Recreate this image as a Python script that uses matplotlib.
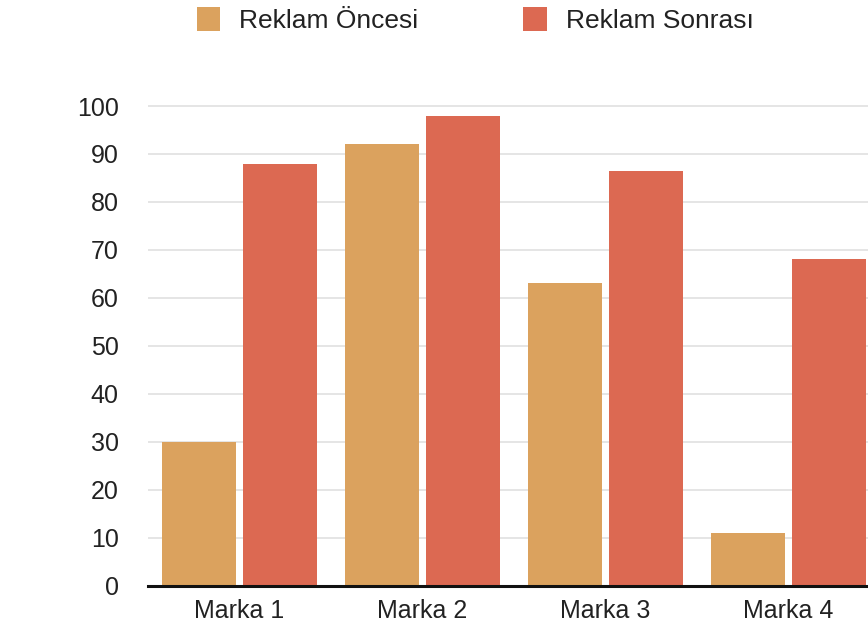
import matplotlib
matplotlib.use("Agg")
import matplotlib.pyplot as plt
import numpy as np

# Brand awareness before and after the ad campaign
brands = ["Marka 1", "Marka 2", "Marka 3", "Marka 4"]
before = [30, 92, 63, 11]
after = [88, 98, 86.5, 68]
series_labels = ["Reklam Öncesi", "Reklam Sonrası"]
y_ticks = [0, 10, 20, 30, 40, 50, 60, 70, 80, 90, 100]

orange = "#DBA25E"
red = "#DC6952"

plt.rcParams["font.family"] = ["Liberation Sans", "DejaVu Sans"]

fig = plt.figure(figsize=(8.68, 6.30), dpi=100)
W, H = 868, 630
px_per_unit_y = 4.795
px_per_cat = 183
ax_left = 148
ax_bottom = 44.5
ax = fig.add_axes([ax_left / W, ax_bottom / H,
                   4.0 * px_per_cat / W, 101 * px_per_unit_y / H])

x = np.arange(len(brands))
bw = 0.40
off = 0.221
b1 = ax.bar(x - off, before, width=bw, color=orange, label=series_labels[0], zorder=3)
b2 = ax.bar(x + off, after, width=bw, color=red, label=series_labels[1], zorder=3)

ax.set_xlim(-0.5, 3.5)
ax.set_ylim(0, 101)
ax.set_yticks(y_ticks)
ax.set_xticks(x)
ax.set_xticklabels(brands)
ax.tick_params(axis="both", length=0, labelsize=18, colors="#222222")
ax.tick_params(axis="y", pad=21)
ax.tick_params(axis="x", pad=10)
ax.grid(axis="y", color="#DEDEDE", linewidth=1.1, zorder=0)
for s in ["left", "right", "top"]:
    ax.spines[s].set_visible(False)
ax.spines["bottom"].set_color("#111111")
ax.spines["bottom"].set_linewidth(2.2)
ax.spines["bottom"].set_zorder(4)

fig.legend(handles=[b1, b2], labels=series_labels, ncol=2, frameon=False,
           loc="center", bbox_to_anchor=(475 / W, 1 - 20 / H),
           fontsize=19, handlelength=0.9, handleheight=1.05,
           handletextpad=0.7, columnspacing=4.0, labelcolor="#222222")

fig.savefig("out.png", dpi=100)
